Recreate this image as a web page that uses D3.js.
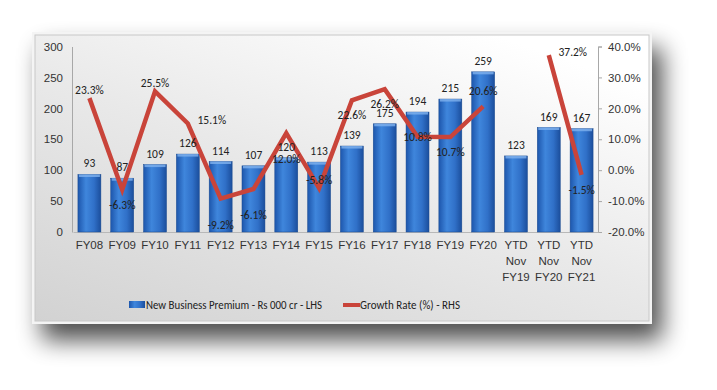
<!DOCTYPE html>
<html><head><meta charset="utf-8">
<script src="https://cdn.jsdelivr.net/npm/d3@7"></script>
<style>
html,body{margin:0;padding:0;background:#fff;}
svg{display:block;font-family:Calibri,Carlito,Lato,sans-serif;}
</style></head>
<body><svg id="c" width="717" height="390"></svg>
<script>
const categories = ["FY08","FY09","FY10","FY11","FY12","FY13","FY14","FY15","FY16","FY17","FY18","FY19","FY20","YTD Nov FY19","YTD Nov FY20","YTD Nov FY21"];
const premium = [93,87,109,126,114,107,120,113,139,175,194,215,259,123,169,167];
const growth = [23.3,-6.3,25.5,15.1,-9.2,-6.1,12.0,-5.8,22.6,26.2,10.8,10.7,20.6,null,37.2,-1.5];
const growthLabelPlace = ["above","below","above","right","belowFar","belowFar","belowFar","above","below","below","center","below","aboveFar",null,"right","below"];
const leftTicks = [0,50,100,150,200,250,300];
const rightTicks = [-20,-10,0,10,20,30,40];
const seriesNames = ["New Business Premium - Rs 000 cr - LHS","Growth Rate (%) - RHS"];

const FS = 11.5;
const svg = d3.select("#c");
const defs = svg.append("defs");

// shadow filter
const f = defs.append("filter").attr("id","sh").attr("x","-15%").attr("y","-15%").attr("width","140%").attr("height","160%");
f.append("feGaussianBlur").attr("in","SourceAlpha").attr("stdDeviation",12).attr("result","b");
f.append("feOffset").attr("in","b").attr("dx",10).attr("dy",16).attr("result","o");
f.append("feComponentTransfer").attr("in","o").attr("result","o2").append("feFuncA").attr("type","linear").attr("slope",0.7);
const fm = f.append("feMerge"); fm.append("feMergeNode").attr("in","o2"); fm.append("feMergeNode").attr("in","SourceGraphic");

// background gradient
const bg = defs.append("linearGradient").attr("id","bg").attr("x1","0").attr("y1","1").attr("x2","0.75").attr("y2","0");
bg.append("stop").attr("offset","0").attr("stop-color","#d2d2d2");
bg.append("stop").attr("offset","0.55").attr("stop-color","#e9e9e9");
bg.append("stop").attr("offset","1").attr("stop-color","#ffffff");

// bar gradient
const bgr = defs.append("linearGradient").attr("id","bar").attr("x1","0").attr("y1","0").attr("x2","1").attr("y2","0");
bgr.append("stop").attr("offset","0").attr("stop-color","#1d56ac");
bgr.append("stop").attr("offset","0.35").attr("stop-color","#3f86dc");
bgr.append("stop").attr("offset","0.7").attr("stop-color","#3070c8");
bgr.append("stop").attr("offset","1").attr("stop-color","#1b4e9c");

// panel
svg.append("rect").attr("x",32).attr("y",32).attr("width",620).attr("height",292).attr("fill","#f4f4f4").attr("filter","url(#sh)");
svg.append("rect").attr("x",35).attr("y",35).attr("width",614).attr("height",286).attr("fill","url(#bg)").attr("stroke","#c8c8c8").attr("stroke-width",1);

const x = d3.scaleBand().domain(categories).range([73,598]).paddingInner(0.3).paddingOuter(0.15);
const yL = d3.scaleLinear().domain([0,300]).range([232,46.5]);
const yR = d3.scaleLinear().domain([-20,40]).range([232,46.5]);

// left axis
const gL = svg.append("g").attr("transform","translate(72,0)").call(d3.axisLeft(yL).tickValues(leftTicks).tickSize(0).tickPadding(9));
gL.select(".domain").attr("stroke","#a8a8a8");
gL.selectAll("text").attr("font-size",FS).attr("fill","#333");

// right axis
const gR = svg.append("g").attr("transform","translate(598,0)").call(d3.axisRight(yR).tickValues(rightTicks).tickSize(4).tickPadding(6).tickFormat(d=>d.toFixed(1)+"%"));
gR.select(".domain").attr("stroke","#a8a8a8");
gR.selectAll("line").attr("stroke","#a8a8a8");
gR.selectAll("text").attr("font-size",FS).attr("fill","#333");

// bottom axis
const gB = svg.append("g").attr("transform","translate(0,232)").call(d3.axisBottom(x).tickSize(0).tickPadding(0));
gB.select(".domain").attr("stroke","#b8b8b8");
gB.selectAll("text").attr("font-size",FS).attr("fill","#333").text(null).attr("dy",null)
  .each(function(d){
    const parts = d.startsWith("YTD") ? ["YTD","Nov",d.split(" ")[2]] : [d];
    const t = d3.select(this);
    parts.forEach((p,i)=>t.append("tspan").attr("x",0).attr("y",17+i*16).text(p));
  });

// bars
svg.append("g").selectAll("rect").data(premium).join("rect")
  .attr("x",(d,i)=>x(categories[i])).attr("width",x.bandwidth())
  .attr("y",d=>yL(d)).attr("height",d=>yL(0)-yL(d))
  .attr("fill","url(#bar)").attr("stroke","#1a4a90").attr("stroke-width",0.5);
svg.append("g").selectAll("rect").data(premium).join("rect")
  .attr("x",(d,i)=>x(categories[i])+1).attr("width",x.bandwidth()-2)
  .attr("y",d=>yL(d)).attr("height",2.5).attr("fill","#7fb1ee").attr("opacity",0.8);

// line
const pts = growth.map((g,i)=>({g,c:categories[i]}));
const line = d3.line().defined(d=>d.g!==null).x(d=>x(d.c)+x.bandwidth()/2).y(d=>yR(d.g));
svg.append("path").datum(pts).attr("d",line).attr("fill","none").attr("stroke","#c9443a").attr("stroke-width",4.5).attr("stroke-linejoin","miter");

// bar labels
svg.append("g").selectAll("text").data(premium).join("text")
  .attr("x",(d,i)=>x(categories[i])+x.bandwidth()/2).attr("y",d=>yL(d)-7)
  .attr("text-anchor","middle").attr("font-size",FS).attr("fill","#222").text(d=>d);

// growth labels
const off = {above:[0,-8],aboveFar:[0,-15],below:[0,15],belowFar:[0,26],right:[24,-3],center:[0,0]};
svg.append("g").selectAll("text").data(pts.filter(d=>d.g!==null)).join("text")
  .attr("x",d=>{const i=categories.indexOf(d.c);return x(d.c)+x.bandwidth()/2+off[growthLabelPlace[i]][0];})
  .attr("y",d=>{const i=categories.indexOf(d.c);return yR(d.g)+off[growthLabelPlace[i]][1];})
  .attr("dominant-baseline","central").attr("text-anchor","middle").attr("font-size",FS).attr("fill","#222")
  .text(d=>d.g.toFixed(1)+"%");

// legend
const lg = svg.append("g").attr("transform","translate(0,305)");
lg.append("rect").attr("x",129).attr("y",-4).attr("width",16).attr("height",7).attr("fill","url(#bar)");
lg.append("text").attr("x",146).attr("y",0).attr("dominant-baseline","central").attr("font-size",FS).attr("fill","#222")
  .attr("textLength",176).attr("lengthAdjust","spacingAndGlyphs").text(seriesNames[0]);
lg.append("line").attr("x1",343).attr("x2",360).attr("y1",0).attr("y2",0).attr("stroke","#c9443a").attr("stroke-width",4);
lg.append("text").attr("x",360).attr("y",0).attr("dominant-baseline","central").attr("font-size",FS).attr("fill","#222")
  .attr("textLength",100).attr("lengthAdjust","spacingAndGlyphs").text(seriesNames[1]);
</script></body></html>
